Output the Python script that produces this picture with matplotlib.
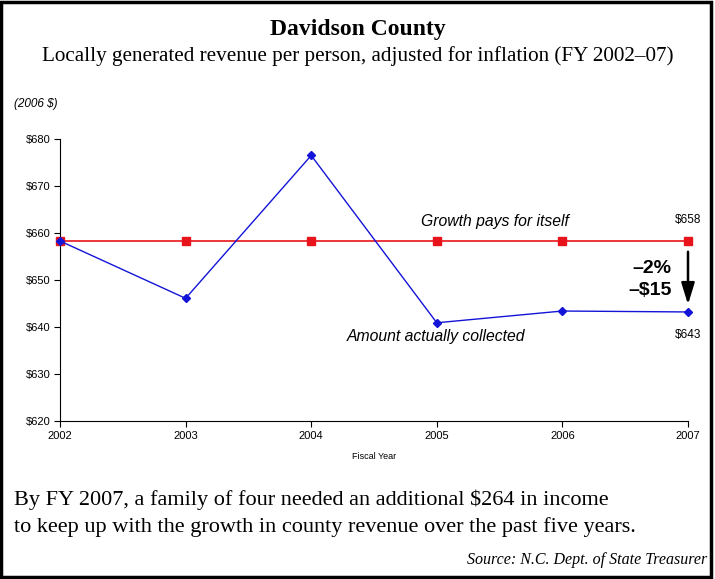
import matplotlib.pyplot as plt
from matplotlib.patches import Rectangle

# Fiscal years and per-person revenue (2006 $)
years = [2002, 2003, 2004, 2005, 2006, 2007]
collected = [658.3, 646.1, 676.5, 640.9, 643.4, 643.2]
growth = [658.3, 658.3, 658.3, 658.3, 658.3, 658.3]
yticks = [620, 630, 640, 650, 660, 670, 680]

SERIF = 'Liberation Serif'
SANS = 'Liberation Sans'

fig = plt.figure(figsize=(7.15, 5.79), dpi=100)
ax = fig.add_axes([60 / 715, 1 - 421 / 579, 628 / 715, 282 / 579])

ax.plot(years, growth, color='#e8141b', lw=1.2, marker='s', ms=6, zorder=3)
ax.plot(years, collected, color='#1414d8', lw=1.0, marker='D', ms=4, zorder=4)

ax.set_xlim(2002, 2007)
ax.set_ylim(620, 680)
ax.set_xticks(years)
ax.set_yticks(yticks)
ax.set_yticklabels(['$%d' % v for v in yticks])
for lab in ax.get_xticklabels() + ax.get_yticklabels():
    lab.set_fontfamily(SANS)
    lab.set_fontsize(8)
ax.tick_params(direction='out', length=4, width=0.8, pad=3)
ax.spines['top'].set_visible(False)
ax.spines['right'].set_visible(False)
for c in ax.get_lines():
    c.set_clip_on(False)
ax.set_xlabel('Fiscal Year', fontfamily=SANS, fontsize=6.5, labelpad=8)

# annotations
ax.text(2005.46, 660.8, 'Growth pays for itself', fontfamily=SANS, style='italic',
        fontsize=11.3, ha='center', va='bottom')
ax.text(2004.99, 639.6, 'Amount actually collected', fontfamily=SANS, style='italic',
        fontsize=11.3, ha='center', va='top')
ax.text(2007, 661.5, '$%d' % round(growth[-1]), fontfamily=SANS, fontsize=8.5,
        ha='center', va='bottom')
ax.text(2007, 639.5, '$%d' % round(collected[-1]), fontfamily=SANS, fontsize=8.5,
        ha='center', va='top')
ax.annotate('', xy=(2007, 644.2), xytext=(2007, 656.6),
            arrowprops=dict(arrowstyle='-|>,head_width=0.4,head_length=1.3',
                            color='black', lw=1.8))
ax.text(2006.87, 652.5, '\u20132%', fontfamily=SANS, fontweight='bold', fontsize=14,
        ha='right', va='center')
ax.text(2006.87, 647.8, '\u2013$15', fontfamily=SANS, fontweight='bold', fontsize=14,
        ha='right', va='center')

# titles and notes
fig.text(0.5, 1 - 30 / 579, 'Davidson County', fontfamily=SERIF, fontweight='bold',
         fontsize=17, ha='center', va='center')
fig.text(0.5, 1 - 56 / 579,
         'Locally generated revenue per person, adjusted for inflation (FY 2002\u201307)',
         fontfamily=SERIF, fontsize=15.2, ha='center', va='center')
fig.text(14 / 715, 1 - 104 / 579, '(2006 $)', fontfamily=SANS, style='italic',
         fontsize=8.5, ha='left', va='center')
fig.text(14 / 715, 1 - 500 / 579,
         'By FY 2007, a family of four needed an additional $264 in income',
         fontfamily=SERIF, fontsize=16, ha='left', va='center')
fig.text(14 / 715, 1 - 527 / 579,
         'to keep up with the growth in county revenue over the past five years.',
         fontfamily=SERIF, fontsize=16, ha='left', va='center')
fig.text(707 / 715, 1 - 560 / 579, 'Source: N.C. Dept. of State Treasurer',
         fontfamily=SERIF, style='italic', fontsize=11.5, ha='right', va='center')

fig.patches.append(Rectangle((0.002, 0.003), 0.993, 0.994, transform=fig.transFigure,
                             fill=False, edgecolor='black', lw=2.5))

fig.savefig('out.png', dpi=100)
